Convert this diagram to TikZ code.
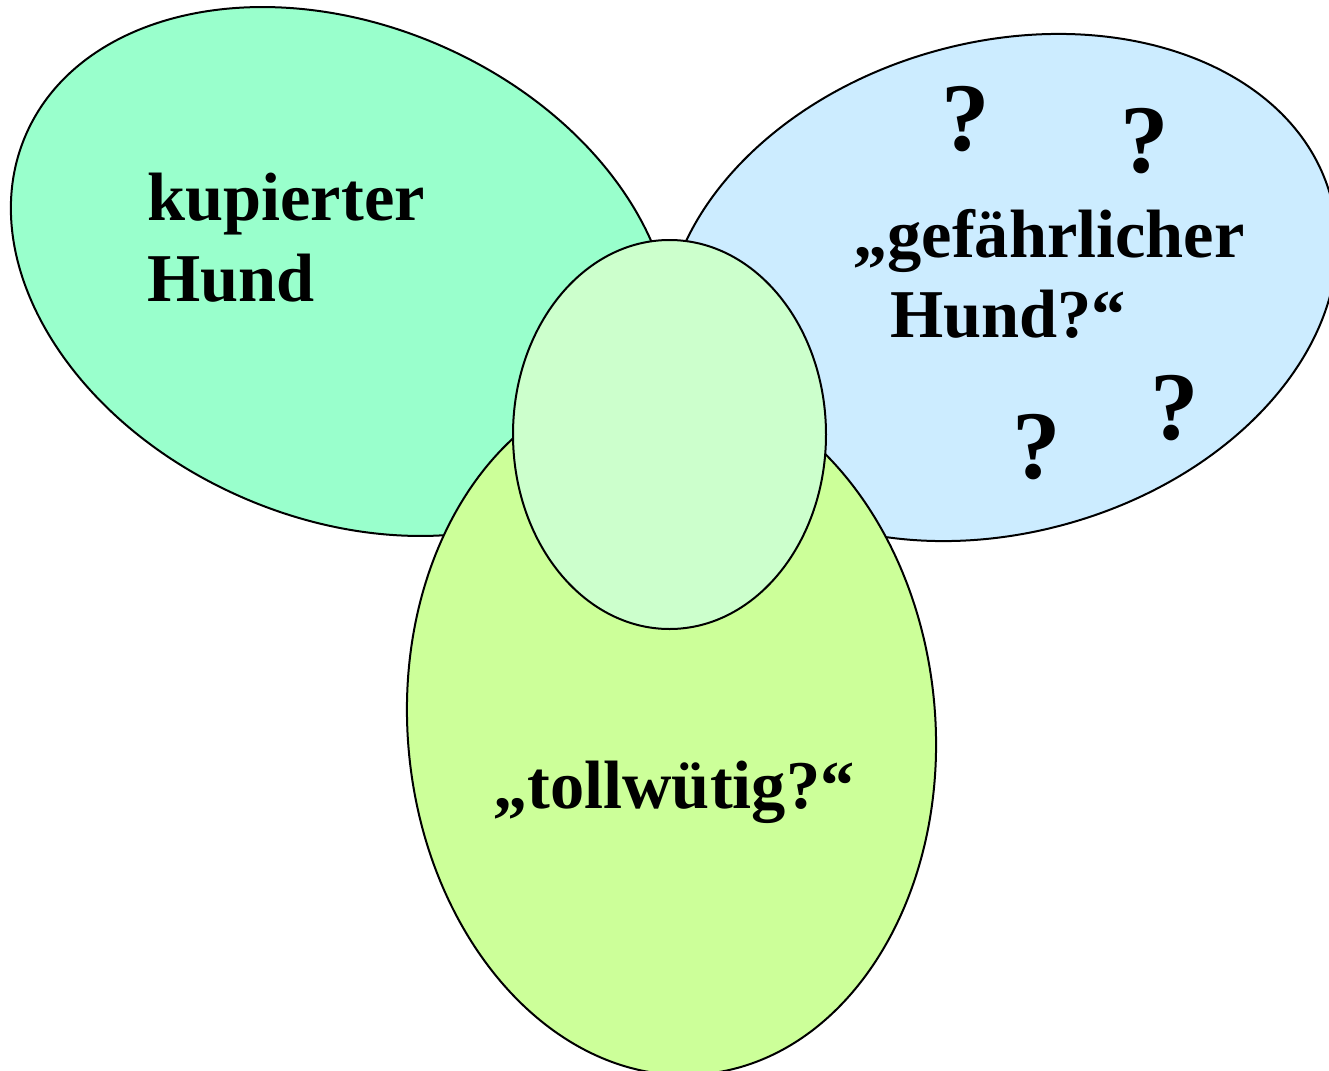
\documentclass[tikz,border=0pt]{standalone}
\usepackage{fontspec}
\setmainfont{Liberation Serif}
\definecolor{kupgreen}{HTML}{99FFCC}
\definecolor{gefblue}{HTML}{CCECFF}
\definecolor{tollyellow}{HTML}{CCFF99}
\definecolor{kernmint}{HTML}{CCFFCC}
\tikzset{
  setshape/.style={draw=black, line width=1pt},
  label text/.style={inner sep=0pt, font=\bfseries\fontsize{34.2}{41}\selectfont},
  qmark/.style={inner sep=0pt, anchor=base, font=\bfseries\fontsize{48.5}{58}\selectfont}
}
\begin{document}
\begin{tikzpicture}[x=0.5pt, y=-0.5pt]
  \useasboundingbox (0,0) rectangle (1329,1071);
  % the three overlapping sets
  \fill[kupgreen] (341.5,271.5) ellipse [x radius=344, y radius=246.7, rotate=-23.4];
  \draw[setshape] (341.5,271.5) ellipse [x radius=344, y radius=246.7, rotate=-23.4];
  \fill[gefblue] (1001,287.5) ellipse [x radius=342, y radius=245.4, rotate=15.5];
  \draw[setshape] (1001,287.5) ellipse [x radius=342, y radius=245.4, rotate=15.5];
  \fill[tollyellow] (671.5,727) ellipse [x radius=263.8, y radius=348.6, rotate=5];
  \draw[setshape] (671.5,727) ellipse [x radius=263.8, y radius=348.6, rotate=5];
  % common core
  \fill[kernmint] (669.5,434.5) ellipse [x radius=156.5, y radius=194.5];
  \draw[setshape] (669.5,434.5) ellipse [x radius=156.5, y radius=194.5];
  % labels
  \node[label text, anchor=base west] (kup1) at (147,220) {kupierter};
  \node[label text, anchor=base west] (kup2) at (147,301) {Hund};
  \node[label text, anchor=base west] (gef1) at (853,257) {„gefährlicher};
  \node[label text, anchor=base west] (gef2) at (890,337) {Hund?“};
  \node[label text, anchor=base west] (toll) at (493,808) {„tollwütig?“};
  % scattered question marks
  \node[qmark] (q1) at (966,150) {?};
  \node[qmark] (q2) at (1145,172) {?};
  \node[qmark] (q3) at (1175,439) {?};
  \node[qmark] (q4) at (1037,478) {?};
\end{tikzpicture}
\end{document}
